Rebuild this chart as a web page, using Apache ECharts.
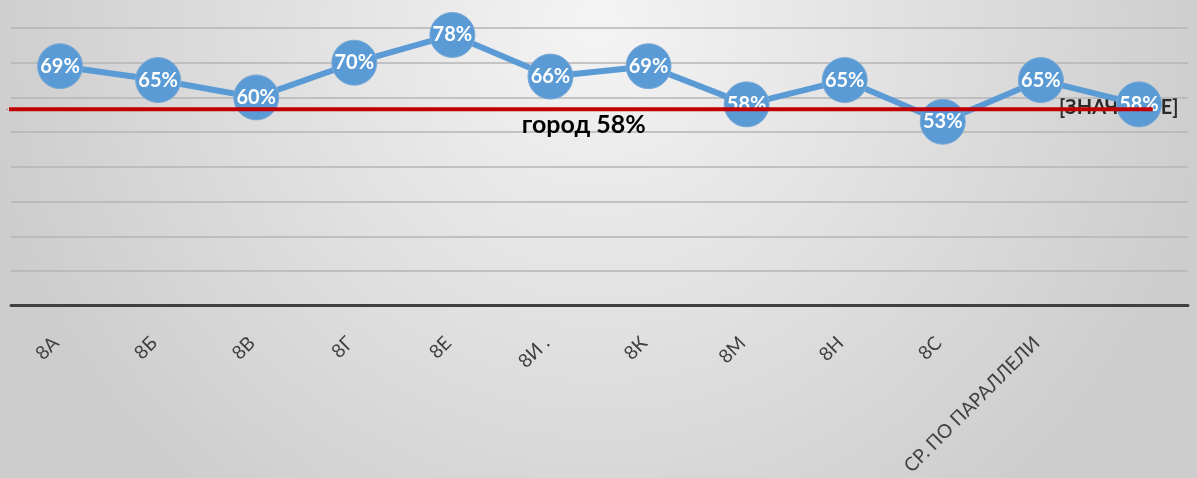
<!DOCTYPE html>
<html>
<head>
<meta charset="utf-8">
<script src="https://cdn.jsdelivr.net/npm/echarts@6/dist/echarts.min.js"></script>
<style>
  html, body { margin: 0; padding: 0; }
  #chart { width: 1197px; height: 478px; }
</style>
</head>
<body>
<div id="chart"></div>
<script>
  // классы параллели (последняя точка без подписи)
  const categories = ['8А', '8Б', '8В', '8Г', '8Е', '8И .', '8К', '8М', '8Н', '8С', 'СР. ПО ПАРАЛЛЕЛИ', '']
  const values = [69, 65, 60, 70, 78, 66, 69, 58, 65, 53, 65, 58]
  // линия города
  const cityValue = 56.6
  const cityLabel = 'город 58%'
  const cityEndLabel = '[ЗНАЧЕНИЕ]'
  // начало, подпись, конец линии (в долях категорий)
  const cityX = [-0.54, 5.34, 11.14]

  const chart = echarts.init(document.getElementById('chart'))

  const cityData = cityX.map(function (x, i) {
    const item = { value: [x, cityValue] }
    if (i === 1) {
      item.label = { show: true, formatter: cityLabel, position: 'bottom', distance: 3, fontSize: 25 }
    }
    return item
  })

  const option = {
    backgroundColor: {
      type: 'radial', x: 0.5, y: 0.05, r: 1.3,
      colorStops: [
        { offset: 0, color: '#f4f4f4' },
        { offset: 1, color: '#cdcdcd' }
      ]
    },
    textStyle: { fontFamily: 'Lato, "Noto Sans", sans-serif' },
    grid: { left: 11, right: 9, top: 28, bottom: 171 },
    xAxis: [
      {
        type: 'category',
        data: categories,
        boundaryGap: true,
        axisLine: { lineStyle: { color: '#404040', width: 3 } },
        axisTick: { show: false },
        axisLabel: {
          rotate: 45, margin: 30, fontSize: 19, color: '#404040', interval: 0,
          padding: [0, 6, 13, 0]
        },
        splitLine: { show: false }
      },
      {
        type: 'value',
        min: -0.5,
        max: 11.5,
        show: false
      }
    ],
    yAxis: {
      type: 'value',
      min: 0,
      max: 80,
      interval: 10,
      axisLabel: { show: false },
      axisLine: { show: false },
      axisTick: { show: false },
      splitLine: { lineStyle: { color: '#b4b4b4', width: 1.5 } }
    },
    series: [
      {
        // подпись в конце линии города, под кружком
        type: 'scatter',
        xAxisIndex: 1,
        z: 1,
        symbolSize: 0,
        data: [[cityX[2], cityValue]],
        label: {
          show: true,
          formatter: cityEndLabel,
          position: 'inside',
          offset: [-34, -2],
          fontSize: 20,
          fontWeight: 'bold',
          color: '#000000'
        }
      },
      {
        type: 'line',
        data: values,
        z: 2,
        symbol: 'circle',
        symbolSize: 45,
        lineStyle: { color: '#5b9bd5', width: 6 },
        itemStyle: { color: '#5b9bd5', borderColor: '#7aa9d6', borderWidth: 1 },
        label: {
          show: true,
          position: 'inside',
          formatter: '{c}%',
          color: '#ffffff',
          fontWeight: 'bold',
          fontSize: 20
        }
      },
      {
        type: 'line',
        xAxisIndex: 1,
        data: cityData,
        z: 3,
        clip: false,
        symbol: 'circle',
        symbolSize: 1,
        lineStyle: { color: '#c00000', width: 4 },
        itemStyle: { color: '#c00000' },
        label: { color: '#000000', fontWeight: 'bold' }
      }
    ]
  }

  option && chart.setOption(option)
</script>
</body>
</html>
